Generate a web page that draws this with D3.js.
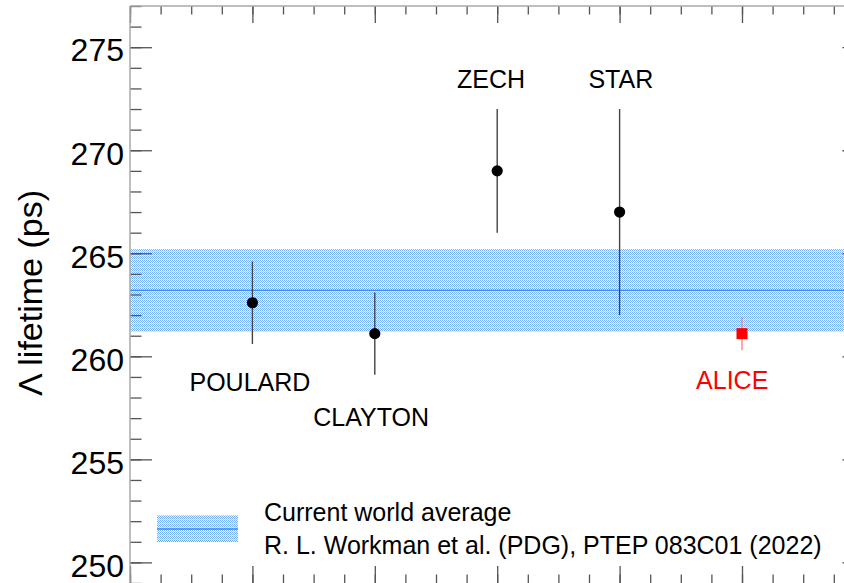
<!DOCTYPE html>
<html>
<head>
<meta charset="utf-8">
<script src="https://cdn.jsdelivr.net/npm/d3@7"></script>
<style>
  html, body { margin: 0; padding: 0; background: #fff; overflow: hidden; }
  svg { display: block; font-family: "Liberation Sans", Arial, Helvetica, sans-serif; }
</style>
</head>
<body>
<svg id="chart" width="844" height="583"></svg>
<script>
// ---- data ----
const experiments = ["POULARD", "CLAYTON", "ZECH", "STAR", "ALICE"];
const expIndex    = [1, 2, 3, 4, 5];
const lifetime    = [262.6, 261.1, 269.0, 267.0, 261.1];
const errLow      = [2.0, 2.0, 3.0, 5.0, 0.8];
const errHigh     = [2.0, 2.0, 3.0, 5.0, 0.8];
const worldAvg    = 263.2;
const worldErr    = 2.0;
const yTicks      = [250, 255, 260, 265, 270, 275];
const legendLines = ["Current world average", "R. L. Workman et al. (PDG), PTEP 083C01 (2022)"];
const yTitle      = "\u039B lifetime (ps)";

// ---- layout (label anchors in data units) ----
const labelLayout = {
  POULARD: { x: 0.98, y: 258.33 },
  CLAYTON: { x: 1.97, y: 256.63 },
  ZECH:    { x: 2.95, y: 273.0 },
  STAR:    { x: 4.01, y: 273.0 },
  ALICE:   { x: 4.92, y: 258.43 }
};

const svg = d3.select("#chart");
const pL = 130, pR = 864.4, pT = 6, pB = 583;
const x = d3.scaleLinear().domain([0, 6]).range([pL, pR]);
const y = d3.scaleLinear().domain([249, 277]).range([pB, pT]);

// pattern for the band
const defs = svg.append("defs");
const pat = defs.append("pattern").attr("id", "dots")
  .attr("patternUnits", "userSpaceOnUse").attr("width", 4).attr("height", 4);
pat.append("rect").attr("width", 4).attr("height", 4).attr("fill", "#f0f6fe");
[[0,0],[2,0],[1,1],[3,1],[0,2],[2,2],[1,3],[3,3]].forEach(([px,py]) => {
  pat.append("rect").attr("x", px).attr("y", py).attr("width", 1).attr("height", 1)
    .attr("fill", (py === 3) ? "#a6cbf7" : "#72adf3");
});

const clip = defs.append("clipPath").attr("id", "plotclip");
clip.append("rect").attr("x", pL).attr("y", pT).attr("width", pR - pL).attr("height", pB - pT);

const plot = svg.append("g").attr("clip-path", "url(#plotclip)");

// world average band
plot.append("rect")
  .attr("x", x(0)).attr("width", x(6) - x(0))
  .attr("y", y(worldAvg + worldErr)).attr("height", y(worldAvg - worldErr) - y(worldAvg + worldErr))
  .attr("fill", "url(#dots)");
plot.append("line")
  .attr("x1", x(0)).attr("x2", x(6))
  .attr("y1", y(worldAvg)).attr("y2", y(worldAvg))
  .attr("stroke", "#3a8cf0").attr("stroke-width", 1.4);

// axes (ticks inward)
const yMinor = d3.range(249, 278, 1);
const xMinor = d3.range(0, 6.01, 0.25);
const xMajor = d3.range(0, 7, 1);
const tickColor = "#555";

function addAxis(axis, transform) {
  const g = svg.append("g").attr("transform", transform).call(axis);
  g.select(".domain").remove();
  g.selectAll("line").attr("stroke", tickColor).attr("stroke-width", 1.3);
  return g;
}
// left
addAxis(d3.axisLeft(y).tickValues(yMinor).tickSize(-11.5).tickFormat(""), `translate(${pL},0)`);
const yl = addAxis(d3.axisLeft(y).tickValues(yTicks).tickSize(-22).tickFormat(d3.format("d")), `translate(${pL},0)`);
yl.selectAll("text")
  .attr("x", -6).attr("dy", "0.43em")
  .attr("font-size", 32).attr("fill", "#000")
  .attr("font-family", "Liberation Sans, Arial, sans-serif");
// right
addAxis(d3.axisRight(y).tickValues(yMinor).tickSize(-11.5).tickFormat(""), `translate(${pR},0)`);
addAxis(d3.axisRight(y).tickValues(yTicks).tickSize(-22).tickFormat(""), `translate(${pR},0)`);
// bottom
addAxis(d3.axisBottom(x).tickValues(xMinor).tickSize(-8.5).tickFormat(""), `translate(0,${pB})`);
addAxis(d3.axisBottom(x).tickValues(xMajor).tickSize(-17).tickFormat(""), `translate(0,${pB})`);
// top
addAxis(d3.axisTop(x).tickValues(xMinor).tickSize(-8.5).tickFormat(""), `translate(0,${pT})`);
addAxis(d3.axisTop(x).tickValues(xMajor).tickSize(-17).tickFormat(""), `translate(0,${pT})`);

// frame
const frame = svg.append("g").attr("stroke", "#a8a8a8").attr("stroke-width", 1.5).attr("fill", "none");
frame.append("line").attr("x1", pL).attr("x2", pL).attr("y1", pT).attr("y2", pB + 1);
frame.append("line").attr("x1", pL).attr("x2", pR).attr("y1", pT).attr("y2", pT);
frame.append("line").attr("x1", pR).attr("x2", pR).attr("y1", pT).attr("y2", pB + 1);
frame.append("line").attr("x1", pL).attr("x2", pR).attr("y1", pB + 1).attr("y2", pB + 1);

// measurements
const pts = experiments.map((name, i) => ({
  name, xi: expIndex[i], v: lifetime[i], lo: errLow[i], hi: errHigh[i], alice: name === "ALICE"
}));

const gPts = svg.append("g");
gPts.selectAll("line.err").data(pts).join("line")
  .attr("class", "err")
  .attr("x1", d => x(d.xi)).attr("x2", d => x(d.xi))
  .attr("y1", d => y(d.v + d.hi)).attr("y2", d => y(d.v - d.lo))
  .attr("stroke", d => d.alice ? "#ff7070" : "#444")
  .attr("stroke-width", d => d.alice ? 1.2 : 1.4);

gPts.selectAll("circle").data(pts.filter(d => !d.alice)).join("circle")
  .attr("cx", d => x(d.xi)).attr("cy", d => y(d.v)).attr("r", 5.6)
  .attr("fill", "#000");

gPts.selectAll("rect.sq").data(pts.filter(d => d.alice)).join("rect")
  .attr("class", "sq")
  .attr("x", d => x(d.xi) - 5.5).attr("y", d => y(d.v) - 5.5)
  .attr("width", 11).attr("height", 11).attr("fill", "#ff0000");

// labels
svg.append("g").selectAll("text").data(pts).join("text")
  .attr("x", d => x(labelLayout[d.name].x))
  .attr("y", d => y(labelLayout[d.name].y))
  .attr("text-anchor", "middle")
  .attr("font-size", 25)
  .attr("fill", d => d.alice ? "#ff0000" : "#000")
  .text(d => d.name);

// y title
svg.append("text")
  .attr("transform", `translate(42,293) rotate(-90)`)
  .attr("text-anchor", "middle")
  .attr("font-size", 34)
  .attr("fill", "#000")
  .text(yTitle);

// legend
const lg = svg.append("g");
lg.append("rect").attr("x", 157).attr("y", 515).attr("width", 81).attr("height", 27).attr("fill", "url(#dots)");
lg.append("line").attr("x1", 157).attr("x2", 238).attr("y1", 529).attr("y2", 529)
  .attr("stroke", "#3a8cf0").attr("stroke-width", 1.4);
lg.selectAll("text").data(legendLines).join("text")
  .attr("x", 264).attr("y", (d, i) => 521 + i * 32.5)
  .attr("font-size", 25).attr("fill", "#000")
  .text(d => d);
</script>
</body>
</html>
